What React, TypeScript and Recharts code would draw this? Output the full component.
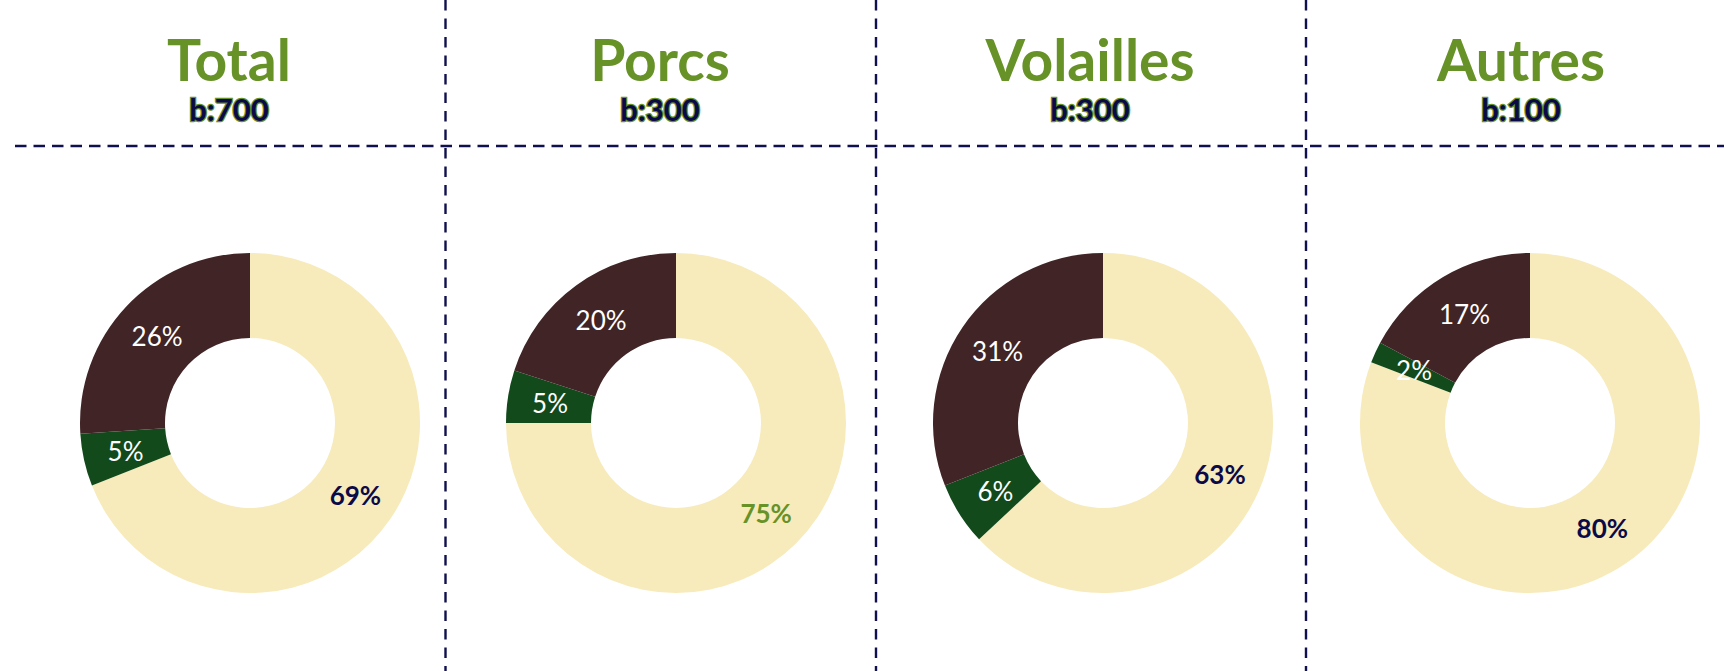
import { PieChart, Pie, Cell } from "recharts";

const PANELS = ["Total", "Porcs", "Volailles", "Autres"];
const BASES = ["b:700", "b:300", "b:300", "b:100"];
const SEGMENTS = ["Part principale", "Part intermédiaire", "Part restante"];
const TOTAL = [69, 5, 26];
const PORCS = [75, 5, 20];
const VOLAILLES = [63, 6, 31];
const AUTRES = [80, 2, 17];
const SERIES = [TOTAL, PORCS, VOLAILLES, AUTRES];

const W = 1724;
const H = 671;
const CREAM = "#F7EABB";
const DARKGREEN = "#124A1B";
const BROWN = "#412426";
const TITLE_GREEN = "#679228";
const NAVY = "#0B0A48";
const LINE = "#10104E";
const FONT = "Lato, 'Open Sans', sans-serif";

const COLORS = [CREAM, DARKGREEN, BROWN];
const CENTERS = [250, 676, 1103, 1530];
const TITLE_X = [229, 660, 1090, 1521];
const DIVIDERS = [445.5, 876, 1306];
const RAD = Math.PI / 180;

function makeLabel(panel: number) {
  return (props: any) => {
    const { cx, cy, midAngle, innerRadius, outerRadius, value, index } = props;
    const r = (innerRadius + outerRadius) / 2;
    const x = cx + r * Math.cos(-midAngle * RAD);
    const y = cy + r * Math.sin(-midAngle * RAD);
    const main = index === 0;
    const fill = main ? (panel === 1 ? TITLE_GREEN : NAVY) : "#ffffff";
    return (
      <text
        x={x}
        y={y}
        fill={fill}
        textAnchor="middle"
        dominantBaseline="central"
        fontFamily={FONT}
        fontSize={26}
        fontWeight={main ? 700 : 400}
      >
        {`${value}%`}
      </text>
    );
  };
}

export default function App() {
  return (
    <div style={{ position: "absolute", left: 0, top: 0, width: W, height: H, background: "#fff" }}>
      <svg width={W} height={H} style={{ position: "absolute", left: 0, top: 0 }}>
        <line x1={15} y1={146} x2={W} y2={146} stroke={LINE} strokeWidth={2.6} strokeDasharray="11.5 7" />
        {DIVIDERS.map((x) => (
          <line key={x} x1={x} y1={0} x2={x} y2={H} stroke={LINE} strokeWidth={2.4} strokeDasharray="10.5 8" />
        ))}
        {PANELS.map((p, i) => (
          <g key={p}>
            <text x={TITLE_X[i]} y={81} textAnchor="middle" fill={TITLE_GREEN} fontFamily={FONT} fontWeight={700} fontSize={57}>
              {p}
            </text>
            <text
              x={TITLE_X[i]}
              y={121}
              textAnchor="middle"
              fill={NAVY}
              stroke={TITLE_GREEN}
              strokeWidth={2.5}
              paintOrder="stroke"
              fontFamily={FONT}
              fontWeight={700}
              fontSize={31}
            >
              {BASES[i]}
            </text>
          </g>
        ))}
      </svg>
      <div style={{ position: "absolute", left: 0, top: 0 }}>
        <PieChart width={W} height={H} margin={{ top: 0, right: 0, bottom: 0, left: 0 }}>
          {SERIES.map((vals, i) => (
            <Pie
              key={PANELS[i]}
              data={vals.map((v, k) => ({ name: SEGMENTS[k], value: v }))}
              dataKey="value"
              cx={CENTERS[i]}
              cy={423}
              innerRadius={85}
              outerRadius={170}
              startAngle={90}
              endAngle={-270}
              stroke="none"
              labelLine={false}
              label={makeLabel(i)}
              isAnimationActive={false}
            >
              {vals.map((_, k) => (
                <Cell key={k} fill={COLORS[k]} />
              ))}
            </Pie>
          ))}
        </PieChart>
      </div>
    </div>
  );
}
